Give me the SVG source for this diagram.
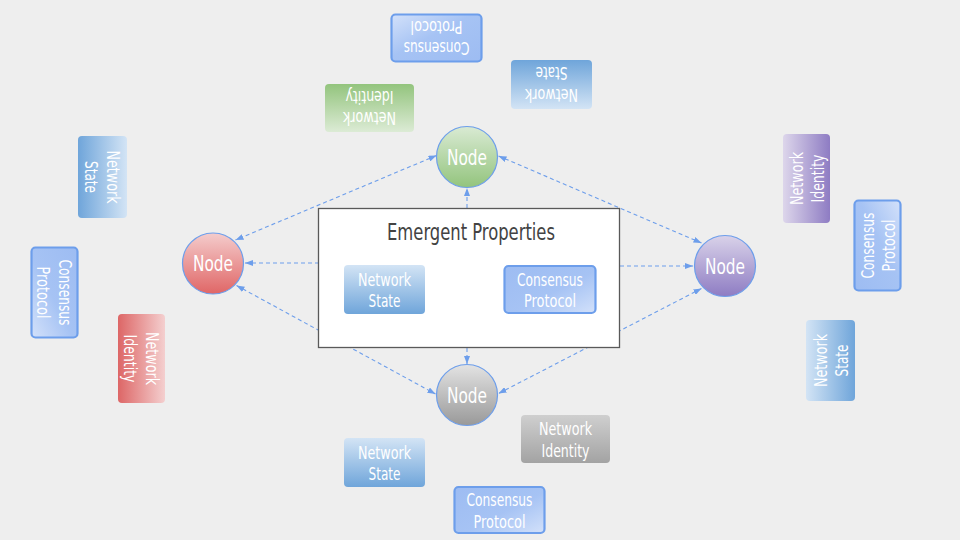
<svg xmlns="http://www.w3.org/2000/svg" width="960" height="540" viewBox="0 0 960 540">
<defs>
<style>
text{font-family:'DejaVu Sans Condensed','Liberation Sans Narrow','Roboto',sans-serif;fill:#fff;text-anchor:middle}
.lbl{font-size:17.5px}
.nd{font-size:21px}
.title{font-size:22.5px;fill:#434343}
.ns{fill:url(#gNS)}
.cp{fill:url(#gCP);stroke:#6d9eeb;stroke-width:2.2}
.circ{stroke:#6d9eeb;stroke-width:1.2}
.con{fill:none;stroke:#6d9eeb;stroke-width:1.1;stroke-dasharray:4 3}
</style>
<linearGradient id="gNS" x1="0" y1="0" x2="0" y2="1"><stop offset="0" stop-color="#d3e4f5"/><stop offset="1" stop-color="#6fa5da"/></linearGradient>
<linearGradient id="gCP" x1="0" y1="0" x2="1" y2="1"><stop offset="0" stop-color="#9dbcf2"/><stop offset="0.55" stop-color="#a6c3f4"/><stop offset="1" stop-color="#d3e1fa"/></linearGradient>
<linearGradient id="gNIg" x1="0" y1="0" x2="0" y2="1"><stop offset="0" stop-color="#dcebd5"/><stop offset="1" stop-color="#93c47d"/></linearGradient>
<linearGradient id="gNIr" x1="0" y1="0" x2="0" y2="1"><stop offset="0" stop-color="#f4cfcf"/><stop offset="1" stop-color="#dd6666"/></linearGradient>
<linearGradient id="gNIp" x1="0" y1="0" x2="0" y2="1"><stop offset="0" stop-color="#ddd6eb"/><stop offset="1" stop-color="#8e7cc3"/></linearGradient>
<linearGradient id="gNIy" x1="0" y1="0" x2="0" y2="1"><stop offset="0" stop-color="#cfcfcf"/><stop offset="1" stop-color="#a3a3a3"/></linearGradient>
<linearGradient id="cG" x1="0" y1="0" x2="0" y2="1"><stop offset="0" stop-color="#d9ead3"/><stop offset="1" stop-color="#93c47d"/></linearGradient>
<linearGradient id="cR" x1="0" y1="0" x2="0" y2="1"><stop offset="0" stop-color="#f4cccc"/><stop offset="1" stop-color="#e06666"/></linearGradient>
<linearGradient id="cP" x1="0" y1="0" x2="0" y2="1"><stop offset="0" stop-color="#d9d2e9"/><stop offset="1" stop-color="#8e7cc3"/></linearGradient>
<linearGradient id="cY" x1="0" y1="0" x2="0" y2="1"><stop offset="0" stop-color="#e3e3e3"/><stop offset="1" stop-color="#999999"/></linearGradient>
<marker id="ar" markerUnits="userSpaceOnUse" markerWidth="8" markerHeight="6" refX="8" refY="3" orient="auto-start-reverse"><path d="M0,0 L8,3 L0,6 z" fill="#6d9eeb"/></marker>
</defs>
<rect width="960" height="540" fill="#eeeeee"/>

<g id="connectors">
<line class="con" x1="319" y1="263" x2="245" y2="263" marker-end="url(#ar)"/>
<line class="con" x1="620" y1="266" x2="693" y2="266" marker-end="url(#ar)"/>
<line class="con" x1="467" y1="208" x2="467" y2="188" marker-end="url(#ar)"/>
<line class="con" x1="467" y1="348" x2="467" y2="364" marker-end="url(#ar)"/>
<line class="con" x1="436.5" y1="155.5" x2="235.5" y2="240" marker-start="url(#ar)" marker-end="url(#ar)"/>
<line class="con" x1="236.5" y1="285.5" x2="435.5" y2="394" marker-start="url(#ar)" marker-end="url(#ar)"/>
<line class="con" x1="498.5" y1="156" x2="701.5" y2="243" marker-start="url(#ar)" marker-end="url(#ar)"/>
<line class="con" x1="701.5" y1="288.5" x2="498.5" y2="393.5" marker-start="url(#ar)" marker-end="url(#ar)"/>
</g>

<g id="emergent">
<rect x="318.5" y="208.5" width="301" height="139" fill="#ffffff" stroke="#595959" stroke-width="1.3"/>
<text class="title" x="471" y="240" textLength="168" lengthAdjust="spacingAndGlyphs">Emergent Properties</text>
<g transform="translate(384.5,289.5)"><rect class="ns" x="-40.5" y="-24.5" width="81" height="49" rx="4"/><text class="lbl" y="-4" textLength="53" lengthAdjust="spacingAndGlyphs">Network</text><text class="lbl" y="17.5" textLength="32" lengthAdjust="spacingAndGlyphs">State</text></g>
<g transform="translate(550,289.5)"><rect class="cp" x="-45.5" y="-23.5" width="91" height="47" rx="4"/><text class="lbl" y="-4" textLength="66" lengthAdjust="spacingAndGlyphs">Consensus</text><text class="lbl" y="17.5" textLength="52" lengthAdjust="spacingAndGlyphs">Protocol</text></g>
</g>

<g id="node-top">
<circle class="circ" cx="467" cy="157" r="30.5" fill="url(#cG)"/>
<text class="nd" x="467" y="164.5" textLength="40" lengthAdjust="spacingAndGlyphs">Node</text>
</g>
<g id="node-left">
<circle class="circ" cx="213" cy="263.5" r="30.5" fill="url(#cR)"/>
<text class="nd" x="213" y="271" textLength="40" lengthAdjust="spacingAndGlyphs">Node</text>
</g>
<g id="node-right">
<circle class="circ" cx="725" cy="266" r="30.5" fill="url(#cP)"/>
<text class="nd" x="725" y="273.5" textLength="40" lengthAdjust="spacingAndGlyphs">Node</text>
</g>
<g id="node-bottom">
<circle class="circ" cx="467" cy="395" r="30.5" fill="url(#cY)"/>
<text class="nd" x="467" y="402.5" textLength="40" lengthAdjust="spacingAndGlyphs">Node</text>
</g>

<g id="top-state" transform="translate(551.5,84.5) rotate(180)"><rect class="ns" x="-40.5" y="-24.5" width="81" height="49" rx="4"/><text class="lbl" y="-4" textLength="53" lengthAdjust="spacingAndGlyphs">Network</text><text class="lbl" y="17.5" textLength="32" lengthAdjust="spacingAndGlyphs">State</text></g>
<g id="top-protocol" transform="translate(436.5,38) rotate(180)"><rect class="cp" x="-45" y="-23.5" width="90" height="47" rx="4"/><text class="lbl" y="-4" textLength="66" lengthAdjust="spacingAndGlyphs">Consensus</text><text class="lbl" y="17.5" textLength="52" lengthAdjust="spacingAndGlyphs">Protocol</text></g>
<g id="top-identity" transform="translate(369.5,108) rotate(180)"><rect fill="url(#gNIg)" x="-44.5" y="-24" width="89" height="48" rx="4"/><text class="lbl" y="-4" textLength="53" lengthAdjust="spacingAndGlyphs">Network</text><text class="lbl" y="17.5" textLength="48" lengthAdjust="spacingAndGlyphs">Identity</text></g>

<g id="left-state" transform="translate(102.5,177) rotate(90)"><rect class="ns" x="-41" y="-24.5" width="82" height="49" rx="4"/><text class="lbl" y="-4" textLength="53" lengthAdjust="spacingAndGlyphs">Network</text><text class="lbl" y="17.5" textLength="32" lengthAdjust="spacingAndGlyphs">State</text></g>
<g id="left-protocol" transform="translate(54.5,292.5) rotate(90)"><rect class="cp" x="-45" y="-23" width="90" height="46" rx="4"/><text class="lbl" y="-4" textLength="66" lengthAdjust="spacingAndGlyphs">Consensus</text><text class="lbl" y="17.5" textLength="52" lengthAdjust="spacingAndGlyphs">Protocol</text></g>
<g id="left-identity" transform="translate(141.5,358.5) rotate(90)"><rect fill="url(#gNIr)" x="-44.5" y="-23.5" width="89" height="47" rx="4"/><text class="lbl" y="-4" textLength="53" lengthAdjust="spacingAndGlyphs">Network</text><text class="lbl" y="17.5" textLength="48" lengthAdjust="spacingAndGlyphs">Identity</text></g>

<g id="right-identity" transform="translate(806.5,178.5) rotate(-90)"><rect fill="url(#gNIp)" x="-44.5" y="-23.5" width="89" height="47" rx="4"/><text class="lbl" y="-4" textLength="53" lengthAdjust="spacingAndGlyphs">Network</text><text class="lbl" y="17.5" textLength="48" lengthAdjust="spacingAndGlyphs">Identity</text></g>
<g id="right-protocol" transform="translate(877.5,245.5) rotate(-90)"><rect class="cp" x="-45" y="-23" width="90" height="46" rx="4"/><text class="lbl" y="-4" textLength="66" lengthAdjust="spacingAndGlyphs">Consensus</text><text class="lbl" y="17.5" textLength="52" lengthAdjust="spacingAndGlyphs">Protocol</text></g>
<g id="right-state" transform="translate(830.5,360.5) rotate(-90)"><rect class="ns" x="-40.5" y="-24.5" width="81" height="49" rx="4"/><text class="lbl" y="-4" textLength="53" lengthAdjust="spacingAndGlyphs">Network</text><text class="lbl" y="17.5" textLength="32" lengthAdjust="spacingAndGlyphs">State</text></g>

<g id="bottom-state" transform="translate(384.5,462.5)"><rect class="ns" x="-40.5" y="-24.5" width="81" height="49" rx="4"/><text class="lbl" y="-4" textLength="53" lengthAdjust="spacingAndGlyphs">Network</text><text class="lbl" y="17.5" textLength="32" lengthAdjust="spacingAndGlyphs">State</text></g>
<g id="bottom-identity" transform="translate(565.5,439)"><rect fill="url(#gNIy)" x="-44.5" y="-24" width="89" height="48" rx="4"/><text class="lbl" y="-4" textLength="53" lengthAdjust="spacingAndGlyphs">Network</text><text class="lbl" y="17.5" textLength="48" lengthAdjust="spacingAndGlyphs">Identity</text></g>
<g id="bottom-protocol" transform="translate(499.5,510)"><rect class="cp" x="-45" y="-23" width="90" height="46" rx="4"/><text class="lbl" y="-4" textLength="66" lengthAdjust="spacingAndGlyphs">Consensus</text><text class="lbl" y="17.5" textLength="52" lengthAdjust="spacingAndGlyphs">Protocol</text></g>
</svg>
